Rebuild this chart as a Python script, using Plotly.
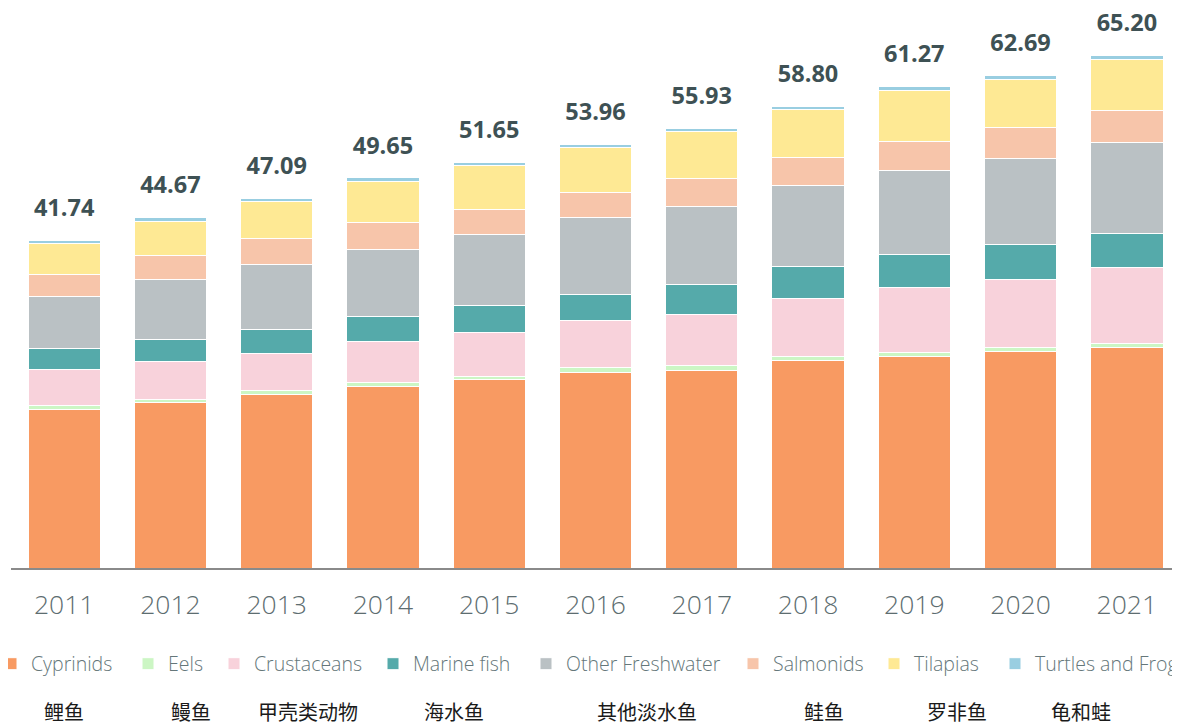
import plotly.graph_objects as go

years = ["2011", "2012", "2013", "2014", "2015", "2016", "2017", "2018", "2019", "2020", "2021"]
totals = [41.74, 44.67, 47.09, 49.65, 51.65, 53.96, 55.93, 58.80, 61.27, 62.69, 65.20]

cyprinids = [20.22, 21.02, 22.11, 23.10, 23.96, 24.82, 25.19, 26.38, 26.89, 27.60, 28.12]
eels = [0.51, 0.47, 0.51, 0.55, 0.47, 0.69, 0.55, 0.55, 0.53, 0.51, 0.47]
crustaceans = [4.58, 4.79, 4.71, 5.22, 5.60, 5.93, 6.58, 7.42, 8.27, 8.66, 9.62]
marine_fish = [2.67, 2.85, 3.02, 3.18, 3.35, 3.40, 3.82, 4.07, 4.24, 4.40, 4.42]
other_freshwater = [6.57, 7.59, 8.31, 8.53, 9.04, 9.80, 9.93, 10.31, 10.66, 11.00, 11.55]
salmonids = [2.80, 3.11, 3.27, 3.40, 3.18, 3.18, 3.53, 3.56, 3.73, 3.90, 4.07]
tilapias = [3.91, 4.33, 4.71, 5.22, 5.60, 5.69, 5.93, 6.11, 6.45, 6.11, 6.44]
turtles_frog = [0.48, 0.51, 0.45, 0.45, 0.45, 0.45, 0.40, 0.40, 0.50, 0.51, 0.51]

series_names = ["Cyprinids", "Eels", "Crustaceans", "Marine fish", "Other Freshwater",
                "Salmonids", "Tilapias", "Turtles and Frog"]
chinese_names = ["鲤鱼", "鳗鱼", "甲壳类动物", "海水鱼", "其他淡水鱼", "鲑鱼", "罗非鱼", "龟和蛙"]
series_values = [cyprinids, eels, crustaceans, marine_fish, other_freshwater,
                 salmonids, tilapias, turtles_frog]
colors = ["#F89A62", "#CCF6C4", "#F8D2DB", "#55AAAA", "#BAC1C4", "#F7C5AA", "#FEE994", "#99CEE1"]

# page body has an 8px default margin; size the figure to fill the rest of the window
OFF = 8
W, H = 1180 - OFF, 725 - OFF
ML, MR, MT, MB = 11 - OFF, 0, 18 - OFF, 157
PW = W - ML - MR
PH = H - MT - MB
BASE = 568  # baseline in window pixels

def px_x(px):  # window px -> paper x
    return (px - OFF - ML) / PW

def px_y(py):  # window px -> paper y
    return (BASE - py) / PH

legend_text_start = [31, 168, 254, 413, 566, 773, 914, 1035]
cn_centers = [64, 191, 308, 454, 647, 824, 957, 1081]

fig = go.Figure()
layout_legends = {}
for i, (name, vals, col) in enumerate(zip(series_names, series_values, colors)):
    lg = "legend" if i == 0 else f"legend{i+1}"
    fig.add_trace(go.Bar(
        x=years, y=vals, name=name,
        marker=dict(color=col, line=dict(color="white", width=1)),
        legend=lg, hoverinfo="x+y+name",
    ))
    layout_legends[lg] = dict(
        x=px_x(legend_text_start[i] - 40), y=px_y(664),
        xanchor="left", yanchor="middle", orientation="h",
        bgcolor="rgba(0,0,0,0)", borderwidth=0,
        font=dict(family="Open Sans", size=19.5, color="#65777A", weight=300),
    )

# total labels above each stack (invisible marker pushes the text upward)
fig.add_trace(go.Scatter(
    x=years, y=totals, mode="markers+text",
    text=[f"{t:.2f}" for t in totals],
    textposition="top center",
    marker=dict(size=28, color="rgba(0,0,0,0)"),
    textfont=dict(family="Open Sans", size=23.5, color="#3E5154", weight="bold"),
    showlegend=False, hoverinfo="skip", cliponaxis=False,
))

annotations = []
for name, cx in zip(chinese_names, cn_centers):
    annotations.append(dict(
        x=px_x(cx), y=px_y(711), xref="paper", yref="paper",
        text=name, showarrow=False, xanchor="center", yanchor="middle",
        font=dict(family="Noto Sans CJK SC", size=20, color="#1A1A1A"),
    ))

fig.update_layout(
    width=W, height=H,
    barmode="stack", bargap=0.32,
    margin=dict(l=ML, r=MR, t=MT, b=MB, autoexpand=False),
    plot_bgcolor="white", paper_bgcolor="white",
    font=dict(family="Open Sans"),
    annotations=annotations,
    **layout_legends,
)
fig.update_xaxes(
    type="category", range=[-0.5, len(years) - 0.5],
    showline=True, linecolor="#8A8A8A", linewidth=2,
    showgrid=False, ticks="", ticklabelstandoff=12,
    tickfont=dict(family="Open Sans", size=26.5, color="#5D6D70", weight=300),
)
fig.update_yaxes(range=[0, 70], visible=False, showgrid=False)

fig.write_html("out.html")
